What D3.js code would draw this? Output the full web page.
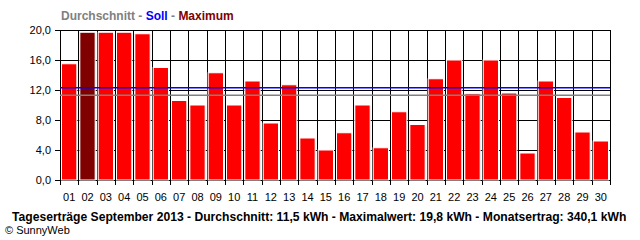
<!DOCTYPE html>
<html>
<head>
<meta charset="utf-8">
<script src="https://cdn.jsdelivr.net/npm/d3@7"></script>
<style>
  body { margin: 0; background: #fff; }
  svg { display: block; }
  text { font-family: "Liberation Sans", Arial, sans-serif; }
</style>
</head>
<body>
<div id="container"></div>
<script>
// daily yield, September 2013 (kWh)
const days = ["01","02","03","04","05","06","07","08","09","10","11","12","13","14","15",
  "16","17","18","19","20","21","22","23","24","25","26","27","28","29","30"];
const yields = [15.5, 19.7, 19.7, 19.7, 19.5, 15.0, 10.6, 10.0, 14.3, 10.0, 13.2, 7.6, 12.7, 5.6, 4.0,
  6.3, 10.0, 4.3, 9.1, 7.4, 13.5, 16.0, 11.5, 16.0, 11.6, 3.6, 13.2, 11.0, 6.4, 5.2];
const yTicks = [0, 4, 8, 12, 16, 20];
const sollValue = 12.3;
const avgValue = 11.3;
const maxDay = "02";
const headParts = [
  { text: "Durchschnitt", color: "#808080" },
  { text: " - ", color: "#808080" },
  { text: "Soll", color: "#0000ff" },
  { text: " - ", color: "#808080" },
  { text: "Maximum", color: "#800000" }
];
const footerText = "Tageserträge September 2013 - Durchschnitt: 11,5 kWh - Maximalwert: 19,8 kWh - Monatsertrag: 340,1 kWh";

const width = 640, height = 240;
const margin = { top: 30, right: 30, bottom: 60, left: 60 };

const svg = d3.select("#container")
  .append("svg")
  .attr("width", width)
  .attr("height", height);

const x = d3.scaleBand()
  .domain(days)
  .range([margin.left, width - margin.right])
  .padding(0);

const y = d3.scaleLinear()
  .domain([0, 20])
  .range([height - margin.bottom, margin.top]);

const de = d3.formatLocale({ decimal: ",", thousands: ".", grouping: [3], currency: ["", " €"] });
const fmt = de.format(".1f");

// horizontal grid + left ticks
svg.append("g")
  .selectAll("line")
  .data(yTicks)
  .join("line")
  .attr("x1", margin.left - 5)
  .attr("x2", width - margin.right)
  .attr("y1", d => Math.round(y(d)) + 0.5)
  .attr("y2", d => Math.round(y(d)) + 0.5)
  .attr("stroke", "#000");

// vertical grid at slot boundaries
const bounds = days.map(d => x(d)).concat([width - margin.right]);
svg.append("g")
  .selectAll("line")
  .data(bounds)
  .join("line")
  .attr("x1", d => Math.round(d) + 0.5)
  .attr("x2", d => Math.round(d) + 0.5)
  .attr("y1", margin.top)
  .attr("y2", height - margin.bottom + 5)
  .attr("stroke", "#000");

// bars
svg.append("g")
  .selectAll("rect")
  .data(yields)
  .join("rect")
  .attr("x", (d, i) => x(days[i]) + 1.5)
  .attr("width", x.bandwidth() - 3)
  .attr("y", d => y(d))
  .attr("height", d => y(0) - y(d))
  .attr("fill", (d, i) => days[i] === maxDay ? "#800000" : "#ff0000")
  .attr("stroke", "#fff")
  .attr("stroke-width", 1);

// reference lines
svg.append("line")
  .attr("x1", margin.left).attr("x2", width - margin.right)
  .attr("y1", y(avgValue)).attr("y2", y(avgValue))
  .attr("stroke", "#808080").attr("stroke-width", 1.5);

svg.append("line")
  .attr("x1", margin.left).attr("x2", width - margin.right)
  .attr("y1", y(sollValue)).attr("y2", y(sollValue))
  .attr("stroke", "#0000ff").attr("stroke-width", 1.5);

// y labels
svg.append("g")
  .selectAll("text")
  .data(yTicks)
  .join("text")
  .attr("x", margin.left - 9)
  .attr("y", d => y(d) + 4)
  .attr("text-anchor", "end")
  .attr("font-size", 11)
  .text(d => fmt(d));

// x labels
svg.append("g")
  .selectAll("text")
  .data(days)
  .join("text")
  .attr("x", d => x(d) + x.bandwidth() / 2)
  .attr("y", height - margin.bottom + 21)
  .attr("text-anchor", "middle")
  .attr("font-size", 11)
  .text(d => d);

// legend header, pieces laid out one after another
let hx = 61;
headParts.forEach(p => {
  const t = svg.append("text")
    .attr("x", hx)
    .attr("y", 20)
    .attr("font-size", 12)
    .attr("font-weight", "bold")
    .attr("fill", p.color)
    .attr("xml:space", "preserve")
    .style("white-space", "pre")
    .text(p.text);
  hx += t.node().getComputedTextLength();
});

// footer, font shrunk until it fits 12..629
const foot = svg.append("text")
  .attr("x", 12)
  .attr("y", 221)
  .attr("font-size", 12.5)
  .attr("font-weight", "bold")
  .text(footerText);
const fw = foot.node().getComputedTextLength();
if (fw > 615) foot.attr("font-size", 12.5 * 615 / fw);

svg.append("text")
  .attr("x", 5)
  .attr("y", 234)
  .attr("font-size", 11)
  .text("© SunnyWeb");
</script>
</body>
</html>
